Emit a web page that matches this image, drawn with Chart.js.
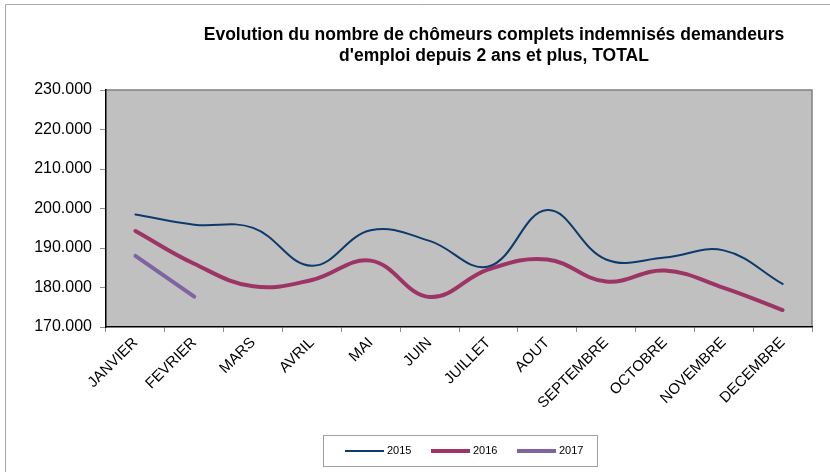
<!DOCTYPE html>
<html>
<head>
<meta charset="utf-8">
<script src="https://cdn.jsdelivr.net/npm/chart.js@4"></script>
<style>
  body { margin: 0; background: #fff; }
  #graficaChomeurs { display: block; }
</style>
</head>
<body>
<canvas id="graficaChomeurs" width="830" height="475"></canvas>
<script>
// Données
const mois = ['JANVIER', 'FEVRIER', 'MARS', 'AVRIL', 'MAI', 'JUIN', 'JUILLET', 'AOUT', 'SEPTEMBRE', 'OCTOBRE', 'NOVEMBRE', 'DECEMBRE'];
const valeurs2015 = [198500, 195900, 195100, 185500, 194500, 191800, 185300, 199600, 187100, 187600, 189400, 180900];
const valeurs2016 = [194300, 186000, 180300, 181900, 186800, 177600, 184600, 187100, 181500, 184300, 179900, 174300];
const valeurs2017 = [188000, 177700];
const titre = ['Evolution du nombre de chômeurs complets indemnisés demandeurs', "d'emploi depuis 2 ans et plus, TOTAL"];

const police = '"Liberation Sans", Arial, sans-serif';

// fond gris de la zone de tracé + cadre
const fondZone = {
  id: 'fondZone',
  beforeDraw(chart) {
    const { ctx, chartArea: a } = chart;
    ctx.save();
    ctx.fillStyle = '#c0c0c0';
    ctx.fillRect(a.left, a.top, a.right - a.left, a.bottom - a.top);
    ctx.strokeStyle = '#808080';
    ctx.lineWidth = 1.5;
    ctx.beginPath();
    ctx.moveTo(a.left, a.top);
    ctx.lineTo(a.right, a.top);
    ctx.lineTo(a.right, a.bottom);
    ctx.stroke();
    // bordure extérieure
    ctx.strokeStyle = '#a8a8a8';
    ctx.lineWidth = 1;
    ctx.beginPath();
    ctx.moveTo(5.5, 472);
    ctx.lineTo(5.5, 4.5);
    ctx.lineTo(830, 4.5);
    ctx.stroke();
    ctx.restore();
  }
};

// titre et légende dessinés à la main
const titreLegende = {
  id: 'titreLegende',
  afterDraw(chart) {
    const ctx = chart.ctx;
    ctx.save();
    ctx.fillStyle = '#000';
    ctx.font = 'bold 17.5px ' + police;
    ctx.textAlign = 'center';
    ctx.textBaseline = 'middle';
    ctx.fillText(titre[0], 494, 35);
    ctx.fillText(titre[1], 494, 56);

    // cadre de la légende
    ctx.strokeStyle = '#a0a0a0';
    ctx.lineWidth = 1;
    ctx.strokeRect(323.5, 435.5, 274, 31);
    ctx.font = '11px ' + police;
    ctx.textAlign = 'left';
    chart.data.datasets.forEach((ds, i) => {
      const x = 345 + i * 86;
      const y = 451;
      ctx.strokeStyle = ds.borderColor;
      ctx.lineWidth = ds.borderWidth;
      ctx.beginPath();
      ctx.moveTo(x, y);
      ctx.lineTo(x + 39, y);
      ctx.stroke();
      ctx.fillStyle = '#000';
      ctx.fillText(ds.label, x + 42, y);
    });
    ctx.restore();
  }
};

function crearGraficoChomeurs() {
  const ctx = document.getElementById('graficaChomeurs').getContext('2d');
  return new Chart(ctx, {
    type: 'line',
    data: {
      labels: mois,
      datasets: [{
        label: '2015',
        data: valeurs2015,
        borderColor: '#0c3a6c',
        borderWidth: 2,
        tension: 0.4
      }, {
        label: '2016',
        data: valeurs2016,
        borderColor: '#9c3465',
        borderWidth: 4,
        tension: 0.4
      }, {
        label: '2017',
        data: valeurs2017,
        borderColor: '#8064a2',
        borderWidth: 4,
        tension: 0
      }]
    },
    options: {
      responsive: false,
      animation: false,
      elements: { point: { radius: 0 }, line: { borderCapStyle: 'round' } },
      layout: { padding: { top: 90, right: 18, bottom: 68, left: 0 } },
      plugins: {
        legend: { display: false },
        title: { display: false },
        tooltip: { enabled: false }
      },
      scales: {
        x: {
          offset: true,
          afterFit(scale) { scale.height = 80; },
          grid: { offset: true, drawOnChartArea: false, color: '#909090', tickLength: 5 },
          border: { color: '#000', width: 1.5 },
          ticks: {
            autoSkip: false,
            maxRotation: 45,
            minRotation: 45,
            padding: 2,
            color: '#000',
            font: { family: police, size: 15 }
          }
        },
        y: {
          min: 170000,
          max: 230000,
          afterFit(scale) { scale.width = 106; },
          grid: { drawOnChartArea: false, color: '#909090', tickLength: 6 },
          border: { color: '#000', width: 1.5 },
          ticks: {
            stepSize: 10000,
            padding: 8,
            color: '#000',
            font: { family: police, size: 16 },
            callback: v => v.toLocaleString('de-DE')
          }
        }
      }
    },
    plugins: [fondZone, titreLegende]
  });
}

crearGraficoChomeurs();
</script>
</body>
</html>
